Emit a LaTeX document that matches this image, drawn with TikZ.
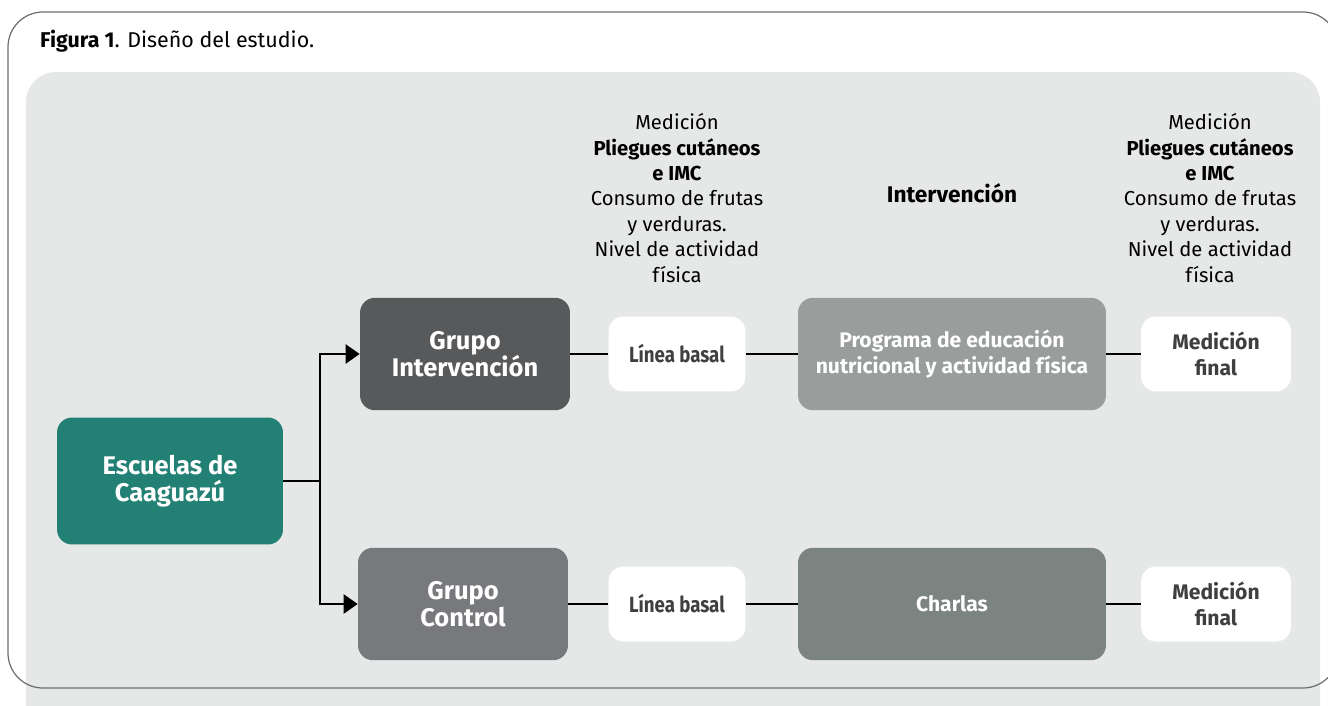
\documentclass[tikz,border=0pt]{standalone}
\usepackage{fontspec}
\setmainfont{Fira Sans}
\usetikzlibrary{arrows.meta,positioning}
\definecolor{cspanel}{RGB}{229,232,231}
\definecolor{csframe}{RGB}{110,110,110}
\definecolor{csteal}{RGB}{35,128,116}
\definecolor{csdark}{RGB}{88,89,91}
\definecolor{csgray}{RGB}{120,121,125}
\definecolor{csprog}{RGB}{153,158,157}
\definecolor{cstalk}{RGB}{124,132,129}
\definecolor{cstext}{RGB}{62,63,65}
\tikzstyle{link} = [line width=1.4pt, black]
\tikzstyle{arrow} = [link, -{Triangle[length=0.28cm, width=0.38cm]}]

\begin{document}
\begin{tikzpicture}[
    x=0.02cm, y=-0.02cm,
    every node/.style={font=\fontsize{11.5}{14.5}\selectfont},
    box/.style={rectangle, rounded corners=0.3cm, inner sep=0pt, align=center, text=white, font=\fontsize{14.5}{15.5}\selectfont\bfseries},
    group/.style={box, minimum width=4.2cm, minimum height=2.25cm},
    step box/.style={box, minimum width=6.16cm, minimum height=2.25cm, font=\fontsize{12}{14.5}\selectfont\bfseries},
    whitebox/.style={box, fill=white, text=cstext, minimum height=1.5cm, font=\fontsize{12}{14.5}\selectfont\bfseries},
    note/.style={align=center, text=black}
]
\useasboundingbox (0,0) rectangle (1328,706);
\clip (0,0) rectangle (1328,706);

% Frame and panel
\fill[cspanel, rounded corners=0.6cm] (26,72) rectangle (1320,740);
\draw[csframe, line width=0.7pt, rounded corners=0.7cm] (8,12) rectangle (1338,688);
\node[anchor=west, font=\fontsize{12.2}{15}\selectfont] (title) at (34,41) {\textbf{Figura 1}. Diseño del estudio.};

% Start node
\node[box, fill=csteal, minimum width=4.52cm, minimum height=2.54cm] (schools) at (170,481) {Escuelas de\\Caaguazú};

% Intervention row
\node[group, fill=csdark] (gint) at (465,354) {Grupo\\Intervención};
\node[whitebox, minimum width=2.74cm, font=\fontsize{12.5}{14}\selectfont\bfseries] (base1) at (677,354) {\scalebox{0.85}[1]{Línea basal}};
\node[step box, fill=csprog] (prog) at (952,354) {Programa de educación\\nutricional y actividad física};
\node[whitebox, minimum width=3cm] (final1) at (1216,354) {Medición\\final};

% Control row
\node[group, fill=csgray] (gctl) at (463,604) {Grupo\\Control};
\node[whitebox, minimum width=2.74cm, font=\fontsize{12.5}{14}\selectfont\bfseries] (base2) at (677,604) {\scalebox{0.85}[1]{Línea basal}};
\node[step box, fill=cstalk] (talk) at (952,604) {Charlas};
\node[whitebox, minimum width=3cm] (final2) at (1216,604) {Medición\\final};

% Notes
\node[note] (note1) at (677,198) {Medición\\\textbf{Pliegues cutáneos}\\\textbf{e IMC}\\Consumo de frutas\\y verduras.\\Nivel de actividad\\física};
\node[note] (note2) at (1210,198) {Medición\\\textbf{Pliegues cutáneos}\\\textbf{e IMC}\\Consumo de frutas\\y verduras.\\Nivel de actividad\\física};
\node[note, font=\fontsize{12.9}{15}\selectfont\bfseries] (note3) at (952,193) {Intervención};

% Connectors
\coordinate (split) at (320,481);
\draw[link] (schools) -- (split);
\draw[arrow] (split) |- (gint);
\draw[arrow] (split) |- (gctl);
\draw[link] (gint) -- (base1);
\draw[link] (base1) -- (prog);
\draw[link] (prog) -- (final1);
\draw[link] (gctl) -- (base2);
\draw[link] (base2) -- (talk);
\draw[link] (talk) -- (final2);

\end{tikzpicture}
\end{document}
